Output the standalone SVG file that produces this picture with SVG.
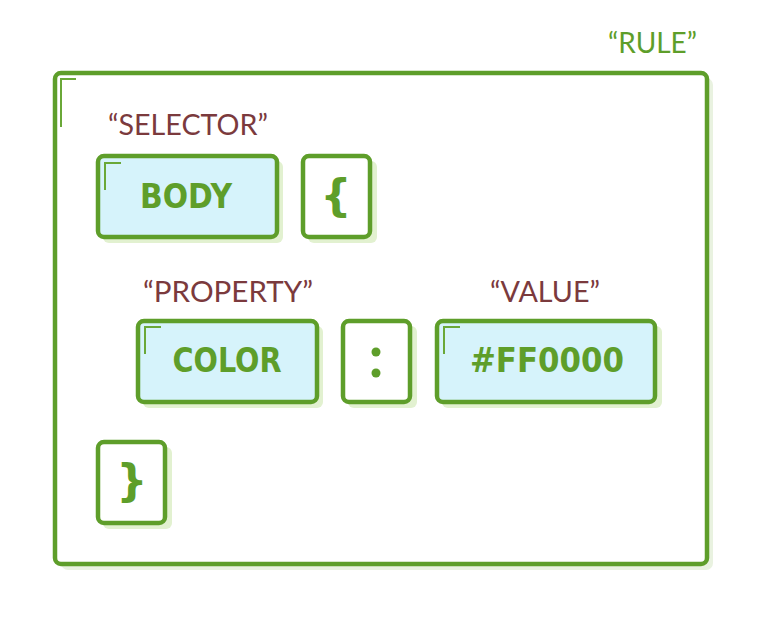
<svg xmlns="http://www.w3.org/2000/svg" width="768" height="618" viewBox="0 0 768 618">
<style>
.shadow{fill:#e2f1d0;}
.outer-shadow{fill:#e9f2e0;}
.box{fill:#ffffff;stroke:#5e9e2a;stroke-width:4.5;}
.blue{fill:#d6f3fb;}
.mark{fill:none;stroke:#6aa838;stroke-width:2;}
.lbl{font-family:Lato,"Open Sans",sans-serif;font-weight:400;font-size:28px;fill:#7b3a3d;}
.code{font-family:"DejaVu Sans",Roboto,sans-serif;font-weight:bold;font-stretch:condensed;font-size:34px;fill:#5e9e2a;text-anchor:middle;}
.brace{font-family:"DejaVu Sans",sans-serif;font-weight:bold;font-size:44px;fill:#5e9e2a;text-anchor:middle;}
</style>
<rect width="768" height="618" fill="#ffffff"/>
<g id="rule">
<rect class="outer-shadow" x="61" y="78" width="652" height="492" rx="7"/>
<rect class="box" x="55" y="73" width="652" height="491" rx="6"/>
<path class="mark" d="M61 127 V79 H76"/>
<text class="lbl" x="608" y="53" style="fill:#5e9e2a" textLength="89" lengthAdjust="spacingAndGlyphs">“RULE”</text>
</g>
<g id="selector">
<rect class="shadow" x="103" y="161" width="180" height="82" rx="6"/>
<rect class="box blue" x="98" y="156" width="179" height="81" rx="6"/>
<path class="mark" d="M105 190 V163 H121"/>
<text class="lbl" x="108" y="135" textLength="160" lengthAdjust="spacingAndGlyphs">“SELECTOR”</text>
<text class="code" x="186" y="208" textLength="92" lengthAdjust="spacingAndGlyphs">BODY</text>
</g>
<g id="open-brace">
<rect class="shadow" x="308" y="161" width="69" height="82" rx="6"/>
<rect class="box" x="303" y="156" width="67" height="81" rx="6"/>
<text class="brace" x="336" y="211">{</text>
</g>
<g id="property">
<rect class="shadow" x="143" y="326" width="180" height="82" rx="6"/>
<rect class="box blue" x="138" y="321" width="179" height="81" rx="6"/>
<path class="mark" d="M145 354 V327 H161"/>
<text class="lbl" x="143" y="302" textLength="170" lengthAdjust="spacingAndGlyphs">“PROPERTY”</text>
<text class="code" x="227" y="372" textLength="109" lengthAdjust="spacingAndGlyphs">COLOR</text>
</g>
<g id="colon">
<rect class="shadow" x="348" y="326" width="69" height="82" rx="6"/>
<rect class="box" x="343" y="321" width="67" height="81" rx="6"/>
<circle cx="376" cy="352" r="4.5" fill="#5e9e2a"/>
<circle cx="376" cy="373" r="4.5" fill="#5e9e2a"/>
</g>
<g id="value">
<rect class="shadow" x="442" y="326" width="220" height="82" rx="6"/>
<rect class="box blue" x="437" y="321" width="218" height="81" rx="6"/>
<path class="mark" d="M444 354 V327 H460"/>
<text class="lbl" x="490" y="302" textLength="110" lengthAdjust="spacingAndGlyphs">“VALUE”</text>
<text class="code" x="547" y="372" textLength="154" lengthAdjust="spacingAndGlyphs">#FF0000</text>
</g>
<g id="close-brace">
<rect class="shadow" x="103" y="447" width="69" height="82" rx="6"/>
<rect class="box" x="98" y="442" width="67" height="81" rx="6"/>
<text class="brace" x="132" y="496">}</text>
</g>
<g id="connectors"></g>
</svg>
